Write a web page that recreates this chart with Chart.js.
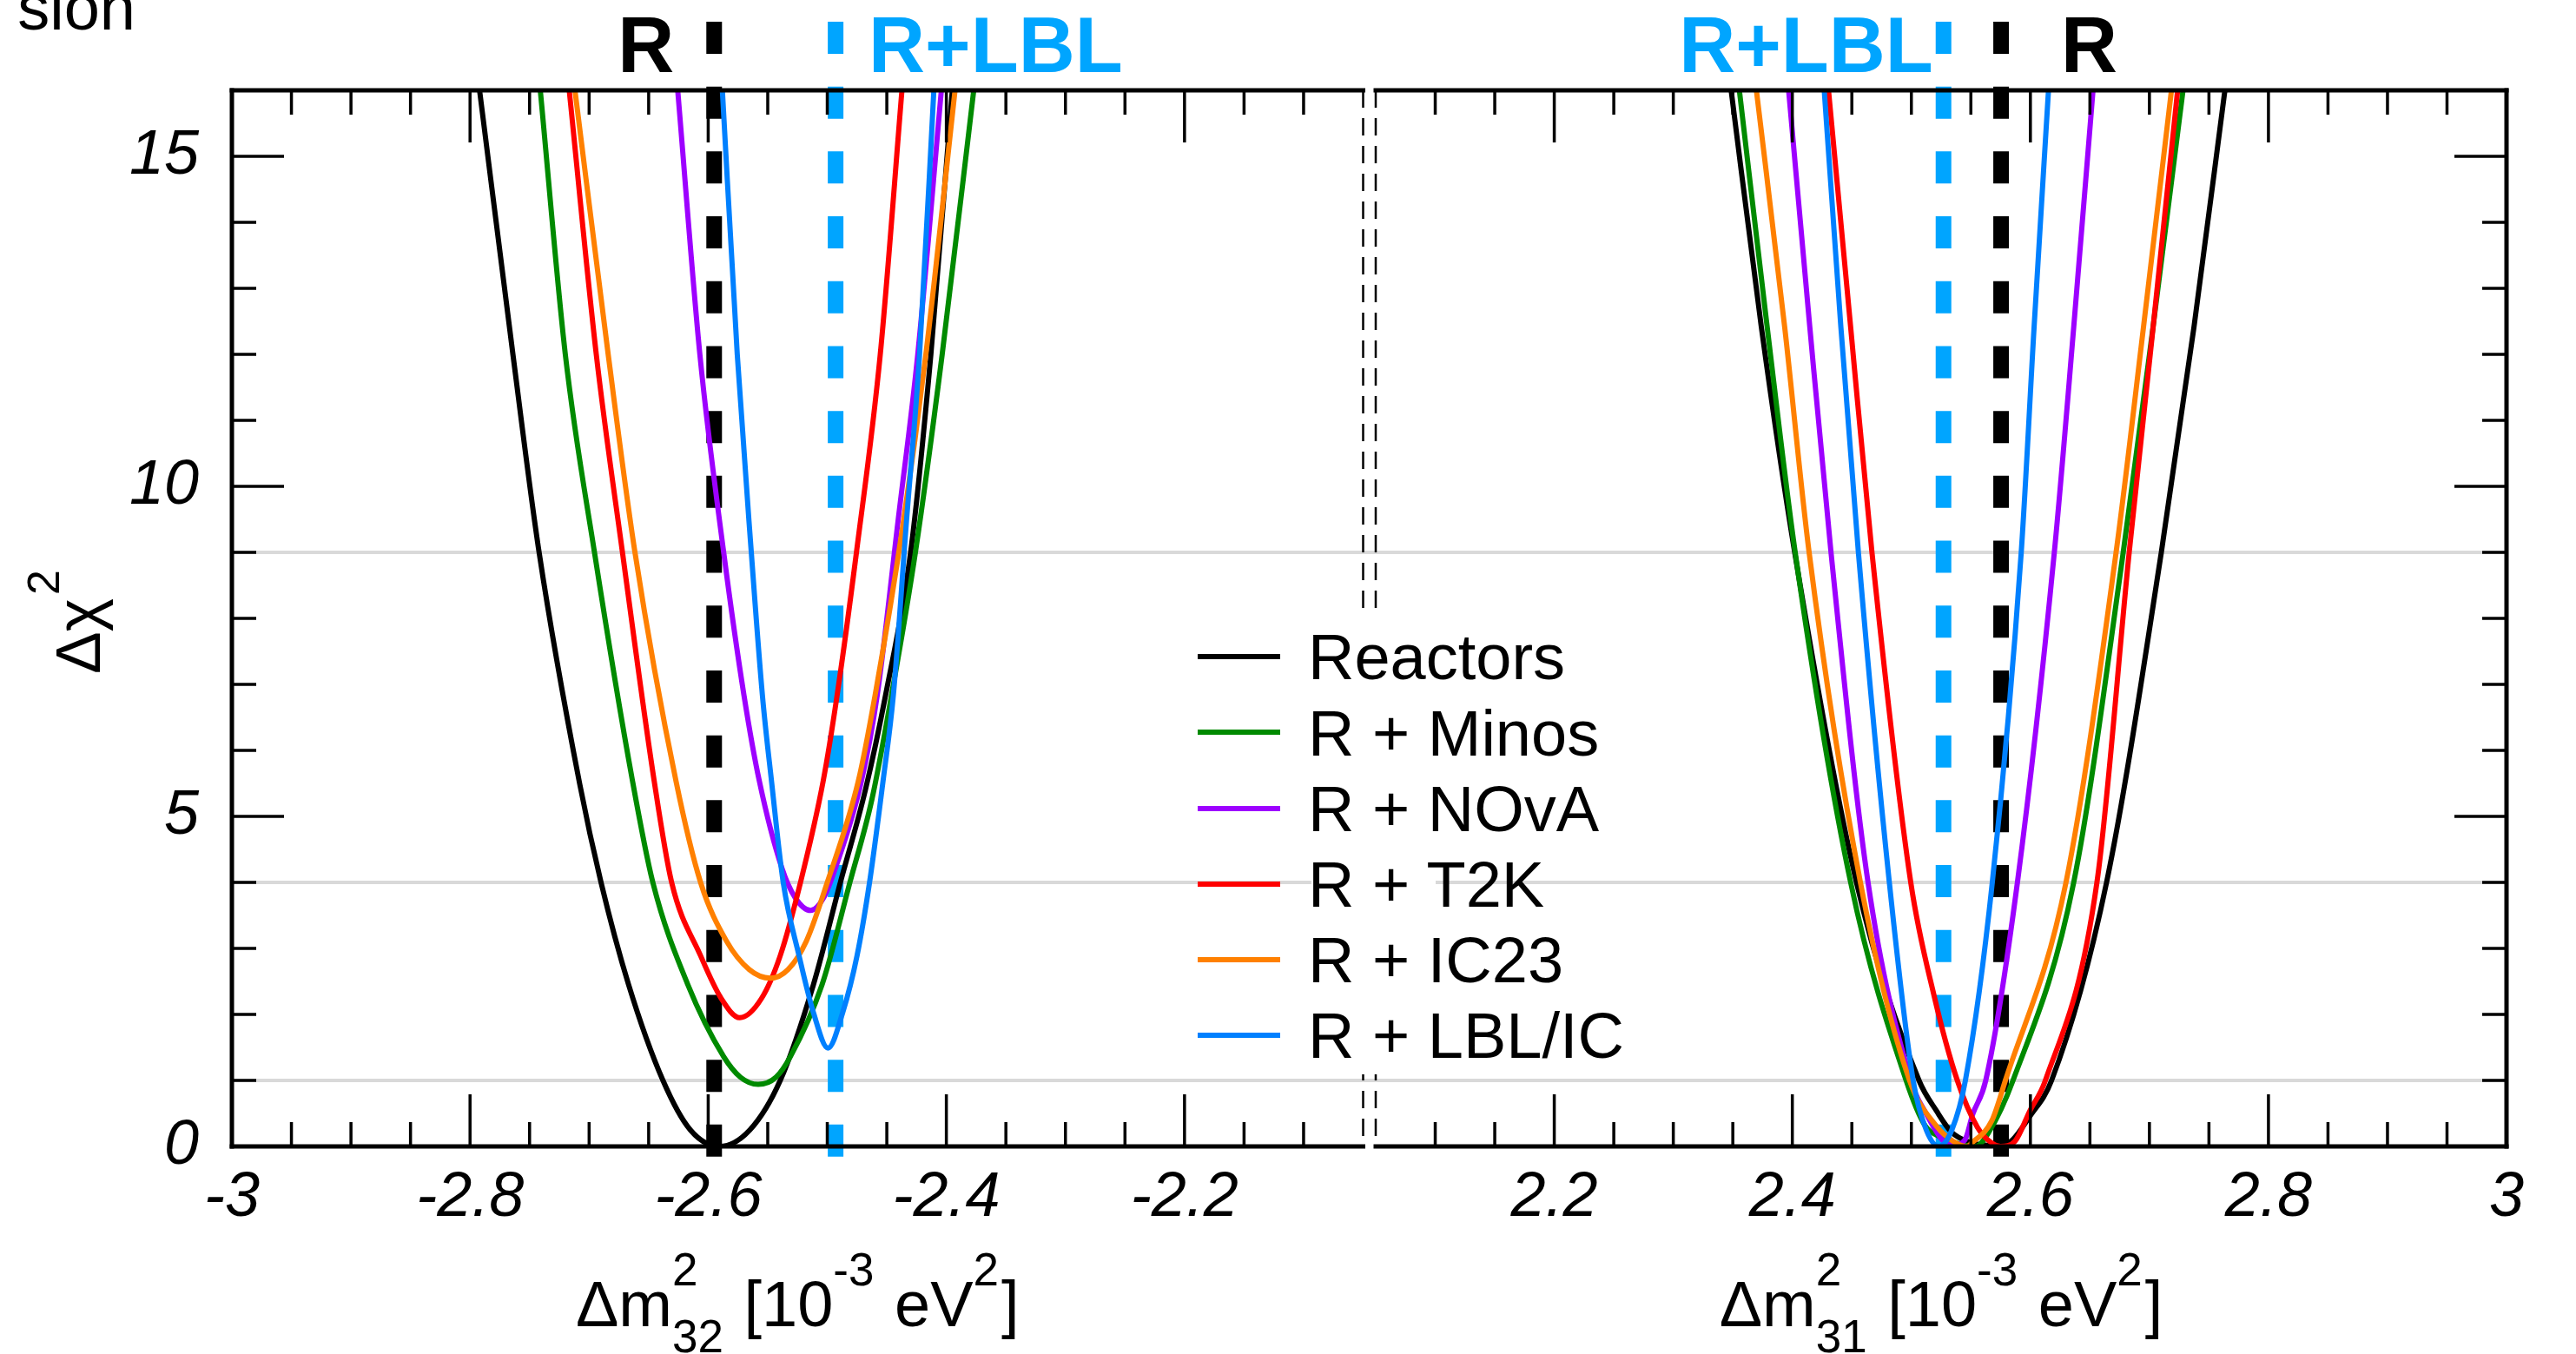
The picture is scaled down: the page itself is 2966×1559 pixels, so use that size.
<!DOCTYPE html>
<html>
<head>
<meta charset="utf-8">
<script src="https://cdn.jsdelivr.net/npm/chart.js@4.4.1/dist/chart.umd.min.js"></script>
<style>
  body { margin: 0; background: #fff; }
  #wrap { position: relative; width: 2966px; height: 1559px; overflow: hidden; background: #fff;
          font-family: "Liberation Sans", Arial, Helvetica, sans-serif; }
  #boxL { position: absolute; left: 0; top: 0; width: 1577px; height: 1559px; }
  #boxR { position: absolute; left: 1577px; top: 0; width: 1389px; height: 1559px; }
  #legBox { position: absolute; left: 1510px; top: 705px; width: 143px; height: 532px; background: #fff; }
  .swatch { position: absolute; left: 1379px; width: 95px; height: 6px; }
  .legText { position: absolute; left: 1506px; height: 74px; font-size: 74px; line-height: 74px;
             white-space: nowrap; color: #000; }
</style>
</head>
<body>
<div id="wrap">
  <div id="boxL"><canvas id="cLeft" width="1577" height="1559" style="width:1577px;height:1559px"></canvas></div>
  <div id="boxR"><canvas id="cRight" width="1389" height="1559" style="width:1389px;height:1559px"></canvas></div>
  <div id="legBox"></div>
</div>
<script>
// ---- data ----
var seriesNames = ['Reactors', 'R + Minos', 'R + NOvA', 'R + T2K', 'R + IC23', 'R + LBL/IC'];
var seriesColors = ['#000000', '#008a00', '#9d00ff', '#ff0000', '#ff8000', '#0080ff'];

// delta m^2_32 panel  [x, delta chi^2]
var reactors32 = [[-2.792,16],[-2.764,12],[-2.742,9],[-2.708,5.5],[-2.690,4],[-2.667,2.46],[-2.638,1],[-2.615,0.25],[-2.5905,0],[-2.565,0.25],[-2.5395,1],[-2.5115,2.46],[-2.489,4],[-2.468,5.4],[-2.451,6.84],[-2.430,9],[-2.413,12],[-2.395,16]];
var minos32 = [[-2.741,16],[-2.720,12],[-2.6955,9],[-2.6635,5.53],[-2.6465,4],[-2.6173,2.46],[-2.587,1.36],[-2.573,1.05],[-2.558,0.94],[-2.543,1.05],[-2.531,1.36],[-2.5042,2.46],[-2.481,4],[-2.4625,5.26],[-2.446,6.84],[-2.426,9],[-2.4035,12],[-2.377,16]];
var nova32 = [[-2.6256,16],[-2.607,12],[-2.587,9],[-2.570,6.84],[-2.557,5.53],[-2.538,4.21],[-2.527,3.77],[-2.514,3.575],[-2.503,3.77],[-2.4933,4.21],[-2.4714,5.53],[-2.458,6.84],[-2.4406,9.47],[-2.424,12],[-2.4042,16]];
var t2k32 = [[-2.7167,16],[-2.694,12],[-2.672,9],[-2.6453,5.53],[-2.6307,4],[-2.6064,2.89],[-2.589,2.24],[-2.5735,1.95],[-2.5553,2.24],[-2.5395,2.89],[-2.5225,4],[-2.5035,5.53],[-2.4917,6.84],[-2.4755,9],[-2.4555,12],[-2.4373,16]];
var ic23_32 = [[-2.7119,16],[-2.684,12],[-2.6615,9],[-2.627,5.53],[-2.6064,4],[-2.5846,3.11],[-2.5655,2.68],[-2.5478,2.55],[-2.533,2.68],[-2.5176,3.11],[-2.500,4],[-2.474,5.53],[-2.4598,6.84],[-2.436,9.47],[-2.4172,12],[-2.3927,16]];
var lblic32 = [[-2.5881,16],[-2.5756,12],[-2.5638,9],[-2.5545,6.84],[-2.5468,5.53],[-2.537,4],[-2.5237,2.89],[-2.5115,2.02],[-2.4994,1.49],[-2.4872,2.02],[-2.475,2.89],[-2.4645,4],[-2.4532,5.53],[-2.4445,6.84],[-2.4335,9.47],[-2.4225,12],[-2.4105,16]];

// delta m^2_31 panel
var reactors31 = [[2.3486,16],[2.374,12.41],[2.402,9],[2.4539,4],[2.5064,1],[2.5214,0.53],[2.5336,0.22],[2.548,0.07],[2.562,0.02],[2.573,0],[2.585,0.1],[2.5993,0.45],[2.6178,1],[2.664,4],[2.710,9],[2.7374,12.41],[2.7634,16]];
var minos31 = [[2.3555,16],[2.3789,12.41],[2.4024,9],[2.449,4],[2.4956,1],[2.5117,0.31],[2.5238,0.15],[2.540,0.04],[2.554,0],[2.5652,0.22],[2.5854,1],[2.6364,4],[2.678,9],[2.703,12.41],[2.7282,16]];
var nova31 = [[2.3969,16],[2.4147,12.41],[2.4325,9],[2.4636,4],[2.4995,1],[2.5126,0.49],[2.526,0.1],[2.5353,0.02],[2.545,0.1],[2.5516,0.49],[2.5625,1],[2.5891,4],[2.6201,9],[2.6364,12.41],[2.6526,16]];
var t2k31 = [[2.4304,16],[2.449,12.41],[2.4669,9],[2.4995,4],[2.519,2.29],[2.5386,1],[2.5555,0.29],[2.5676,0.05],[2.5749,0],[2.5871,0.08],[2.5993,0.53],[2.6126,1],[2.6559,4],[2.683,9],[2.7031,12.41],[2.7237,16]];
var ic23_31 = [[2.3698,16],[2.3936,12.41],[2.4141,9],[2.4572,4],[2.4985,1],[2.5214,0.3],[2.535,0.08],[2.547,0],[2.5506,0.05],[2.5676,0.39],[2.579,1],[2.6299,4],[2.672,9],[2.695,12.41],[2.7185,16]];
var lblic31 = [[2.4268,16],[2.4408,12.41],[2.4555,9],[2.4815,4],[2.5015,1],[2.5125,0.25],[2.5232,0],[2.534,0.25],[2.5454,1],[2.568,4],[2.5923,9],[2.6031,12.41],[2.6152,16]];

var curves32 = [reactors32, minos32, nova32, t2k32, ic23_32, lblic32];
var curves31 = [reactors31, minos31, nova31, t2k31, ic23_31, lblic31];

var fitR = [-2.595, 2.5754];     // black dashed "R"
var fitLBL = [-2.493, 2.527];    // blue dashed "R+LBL"
var dashSpan = [17.04, -0.16];   // vertical extent of the dashed markers
var refLevels = [1, 4, 9];
var yTickValues = [0, 5, 10, 15];
var xTicks32 = [-3, -2.8, -2.6, -2.4, -2.2];
var xTicks31 = [2.2, 2.4, 2.6, 2.8, 3];

var FAM = '"Liberation Sans", Arial, Helvetica, sans-serif';
var LBL_BLUE = '#00a5ff';

function font(size, style) {
    return (style || '') + ' ' + size + 'px ' + FAM;
}

function buildDatasets(curves, rVal, lblVal) {
    var sets = [];
    sets.push({
        data: [{x: rVal, y: dashSpan[0]}, {x: rVal, y: dashSpan[1]}],
        borderColor: '#000', borderWidth: 18, borderDash: [37, 37.7], borderCapStyle: 'butt',
        tension: 0, pointRadius: 0, clip: false, order: 20
    });
    sets.push({
        data: [{x: lblVal, y: dashSpan[0]}, {x: lblVal, y: dashSpan[1]}],
        borderColor: LBL_BLUE, borderWidth: 18, borderDash: [37, 37.7], borderCapStyle: 'butt',
        tension: 0, pointRadius: 0, clip: false, order: 19
    });
    curves.forEach(function (pts, i) {
        sets.push({
            label: seriesNames[i],
            data: pts.map(function (p) { return {x: p[0], y: p[1]}; }),
            borderColor: seriesColors[i],
            borderWidth: 6,
            pointRadius: 0,
            cubicInterpolationMode: 'monotone',
            borderJoinStyle: 'round',
            order: 10 - i
        });
    });
    return sets;
}

function drawAxisTitle(ctx, cx, base, sub) {
    var items = [
        {t: '\u0394m', s: 74},
        {sup: '2', sub: sub, s: 53},
        {t: ' [10', s: 74},
        {sup: '-3', s: 53},
        {t: ' eV', s: 74},
        {sup: '2', s: 53},
        {t: ']', s: 74}
    ];
    var total = 0;
    items.forEach(function (it) {
        ctx.font = font(it.s);
        if (it.t) {
            it.w = ctx.measureText(it.t).width;
        } else {
            it.w = Math.max(ctx.measureText(it.sup).width, it.sub ? ctx.measureText(it.sub).width : 0) + 3;
        }
        total += it.w;
    });
    var x = cx - total / 2;
    ctx.textAlign = 'left';
    ctx.textBaseline = 'alphabetic';
    ctx.fillStyle = '#000';
    items.forEach(function (it) {
        ctx.font = font(it.s);
        if (it.t) {
            ctx.fillText(it.t, x, base);
        } else {
            ctx.fillText(it.sup, x, base - 47);
            if (it.sub) ctx.fillText(it.sub, x, base + 30);
        }
        x += it.w;
    });
}

var panelDecor = {
    id: 'panelDecor',
    beforeDatasetsDraw: function (chart, args, o) {
        var ctx = chart.ctx, a = chart.chartArea, y = chart.scales.y;
        var x0 = o.breakSide === 'left' ? 0 : a.left;
        var x1 = o.breakSide === 'right' ? chart.width : a.right;
        ctx.save();
        ctx.strokeStyle = '#d9d9d9';
        ctx.lineWidth = 4;
        refLevels.forEach(function (v) {
            var py = y.getPixelForValue(v);
            ctx.beginPath();
            ctx.moveTo(x0, py);
            ctx.lineTo(x1, py);
            ctx.stroke();
        });
        ctx.restore();
    },
    afterDatasetsDraw: function (chart, args, o) {
        var ctx = chart.ctx, a = chart.chartArea, xs = chart.scales.x, ys = chart.scales.y;
        ctx.save();
        ctx.strokeStyle = '#000';
        ctx.lineCap = 'butt';
        ctx.lineWidth = 3.5;
        function seg(x1, y1, x2, y2) {
            ctx.beginPath(); ctx.moveTo(x1, y1); ctx.lineTo(x2, y2); ctx.stroke();
        }
        // x ticks, top and bottom, every 0.05 (major every 0.2)
        var i0 = Math.ceil(xs.min / 0.05 - 1e-6), i1 = Math.floor(xs.max / 0.05 + 1e-6);
        for (var i = i0; i <= i1; i++) {
            var v = i * 0.05;
            if (Math.abs(v - xs.min) < 1e-6 || Math.abs(v - xs.max) < 1e-6) continue;
            var len = (i % 4 === 0) ? 60 : 28;
            var px = xs.getPixelForValue(v);
            seg(px, a.bottom, px, a.bottom - len);
            seg(px, a.top, px, a.top + len);
        }
        // y ticks on the outer side only
        for (var j = 1; j < ys.max; j++) {
            var ylen = (j % 5 === 0) ? 60 : 28;
            var py = ys.getPixelForValue(j);
            if (o.breakSide === 'right') seg(a.left, py, a.left + ylen, py);
            else seg(a.right, py, a.right - ylen, py);
        }
        // frame
        ctx.lineWidth = 5;
        ctx.lineCap = 'square';
        seg(a.left, a.top, a.right, a.top);
        seg(a.left, a.bottom, a.right, a.bottom);
        if (o.breakSide === 'right') seg(a.left, a.top, a.left, a.bottom);
        else seg(a.right, a.top, a.right, a.bottom);
        // axis break, thin dashed edge
        ctx.lineWidth = 2.5;
        ctx.lineCap = 'butt';
        ctx.setLineDash([20, 12]);
        var bx = o.breakSide === 'right' ? a.right : a.left;
        seg(bx, a.top, bx, a.bottom);
        ctx.restore();
    },
    afterDraw: function (chart, args, o) {
        var ctx = chart.ctx, a = chart.chartArea, xs = chart.scales.x;
        ctx.save();
        drawAxisTitle(ctx, (a.left + a.right) / 2, 1527, o.sub);
        // labels over the dashed markers
        ctx.font = font(90, 'bold');
        ctx.textBaseline = 'alphabetic';
        o.tags.forEach(function (tg) {
            ctx.fillStyle = tg.color;
            ctx.textAlign = tg.align;
            ctx.fillText(tg.text, xs.getPixelForValue(tg.value) + tg.dx, 83);
        });
        if (o.breakSide === 'right') {
            // y title
            ctx.fillStyle = '#000';
            ctx.translate(115, 776);
            ctx.rotate(-Math.PI / 2);
            ctx.textAlign = 'left';
            ctx.font = font(73);
            ctx.fillText('\u0394\u03c7', 0, 0);
            var w = ctx.measureText('\u0394\u03c7').width;
            ctx.font = font(52);
            ctx.fillText('2', w + 4, -47);
            ctx.setTransform(1, 0, 0, 1, 0, 0);
            // clipped title fragment at the very top
            ctx.font = font(74);
            ctx.textAlign = 'right';
            ctx.fillText('sion', 156, 34);
        }
        ctx.restore();
    }
};

function makeOptions(xmin, xmax, xTicks, padL, padR, showY, decor) {
    return {
        responsive: false,
        animation: false,
        devicePixelRatio: 1,
        events: [],
        layout: {padding: {left: padL, right: padR, top: 104, bottom: 0}},
        plugins: {
            legend: {display: false},
            tooltip: {enabled: false},
            panelDecor: decor
        },
        scales: {
            x: {
                type: 'linear', min: xmin, max: xmax,
                grid: {display: false, drawTicks: false},
                border: {display: false},
                afterBuildTicks: function (s) { s.ticks = xTicks.map(function (v) { return {value: v}; }); },
                afterFit: function (s) { s.height = 239; },
                ticks: {
                    font: {family: FAM, size: 72, style: 'italic'},
                    color: '#000', padding: 17, maxRotation: 0, minRotation: 0, autoSkip: false,
                    callback: function (v) { return String(v); }
                }
            },
            y: {
                type: 'linear', min: 0, max: 16, display: showY,
                grid: {display: false, drawTicks: false},
                border: {display: false},
                afterBuildTicks: function (s) { s.ticks = yTickValues.map(function (v) { return {value: v}; }); },
                afterFit: function (s) { s.width = showY ? 267 : 0; },
                ticks: {
                    font: {family: FAM, size: 72, style: 'italic'},
                    color: '#000', padding: 38,
                    callback: function (v) { return String(v); }
                }
            }
        }
    };
}

new Chart(document.getElementById('cLeft'), {
    type: 'line',
    data: {datasets: buildDatasets(curves32, fitR[0], fitLBL[0])},
    options: makeOptions(-3, -2.05, xTicks32, 0, 7.5, true, {
        breakSide: 'right', sub: '32',
        tags: [
            {text: 'R', value: fitR[0], color: '#000', align: 'right', dx: -46},
            {text: 'R+LBL', value: fitLBL[0], color: LBL_BLUE, align: 'left', dx: 38}
        ]
    }),
    plugins: [panelDecor]
});

new Chart(document.getElementById('cRight'), {
    type: 'line',
    data: {datasets: buildDatasets(curves31, fitR[1], fitLBL[1])},
    options: makeOptions(2.05, 3, xTicks31, 7, 80, false, {
        breakSide: 'left', sub: '31',
        tags: [
            {text: 'R+LBL', value: fitLBL[1], color: LBL_BLUE, align: 'right', dx: -12},
            {text: 'R', value: fitR[1], color: '#000', align: 'left', dx: 69}
        ]
    }),
    plugins: [panelDecor]
});

// legend, spans both panels
var wrap = document.getElementById('wrap');
seriesNames.forEach(function (name, i) {
    var top = 720.4 + i * 87.2;
    var sw = document.createElement('div');
    sw.className = 'swatch';
    sw.style.top = (top + 32.7) + 'px';
    sw.style.background = seriesColors[i];
    wrap.appendChild(sw);

    var tx = document.createElement('div');
    tx.className = 'legText';
    tx.style.top = top + 'px';
    tx.textContent = name;
    wrap.appendChild(tx);
});
</script>
</body>
</html>
